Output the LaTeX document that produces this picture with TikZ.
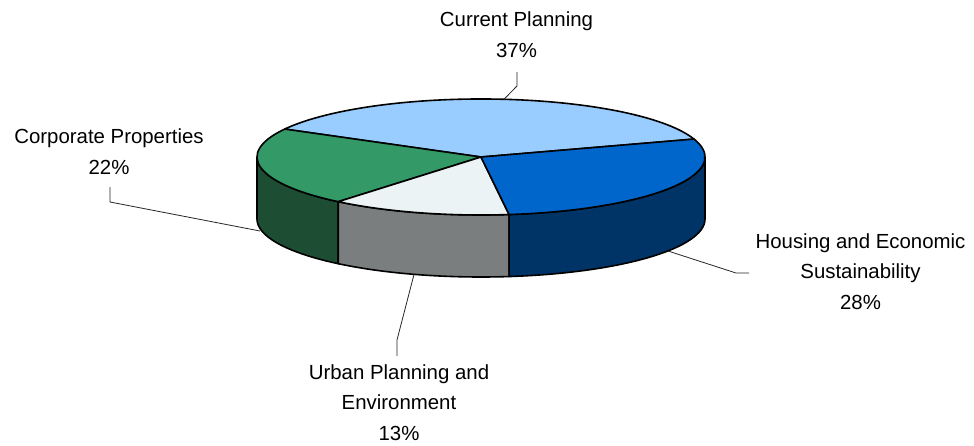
\documentclass[tikz,border=0pt]{standalone}
\usepackage{fontspec}
\setmainfont{Liberation Sans}
\definecolor{cplight}{HTML}{99CCFF}
\definecolor{hsblue}{HTML}{0066CC}
\definecolor{hsdark}{HTML}{003366}
\definecolor{upwhite}{HTML}{ECF3F4}
\definecolor{upgray}{HTML}{7A7E7E}
\definecolor{cpgreen}{HTML}{339966}
\definecolor{cpdark}{HTML}{1D4D33}
\begin{document}
\begin{tikzpicture}[x=1pt,y=1pt,
  slice/.style={draw=black,line width=1.6pt,line join=round},
  ell/.style={x radius=224pt,y radius=58pt},
  lbl/.style={align=center,inner sep=0pt,anchor=base,font=\fontsize{20.4}{30.5}\selectfont},
  leader/.style={draw=black!85,line width=0.8pt}]
\useasboundingbox (-481,-288) rectangle (493,157);
% sides
\filldraw[slice,fill=cpdark] (180:224pt and 58pt) arc[start angle=180,end angle=230.4,ell] -- ++(0,-62) arc[start angle=230.4,end angle=180,ell] -- cycle;
\filldraw[slice,fill=upgray] (230.4:224pt and 58pt) arc[start angle=230.4,end angle=277.2,ell] -- ++(0,-62) arc[start angle=277.2,end angle=230.4,ell] -- cycle;
\filldraw[slice,fill=hsdark] (277.2:224pt and 58pt) arc[start angle=277.2,end angle=360,ell] -- ++(0,-62) arc[start angle=360,end angle=277.2,ell] -- cycle;
% top
\filldraw[slice,fill=cplight] (0,0) -- (18:224pt and 58pt) arc[start angle=18,end angle=151.2,ell] -- cycle;
\filldraw[slice,fill=cpgreen] (0,0) -- (151.2:224pt and 58pt) arc[start angle=151.2,end angle=230.4,ell] -- cycle;
\filldraw[slice,fill=upwhite] (0,0) -- (230.4:224pt and 58pt) arc[start angle=230.4,end angle=277.2,ell] -- cycle;
\filldraw[slice,fill=hsblue] (0,0) -- (277.2:224pt and 58pt) arc[start angle=277.2,end angle=378,ell] -- cycle;
% labels (anchor base = baseline of last line)
\node[lbl] (cp) at (35.5,100) {Current Planning\\37\%};
\node[lbl] (corp) at (-372,-17) {Corporate Properties\\22\%};
\node[lbl] (hs) at (379.5,-152) {Housing and Economic\\Sustainability\\28\%};
\node[lbl] (up) at (-82,-283) {Urban Planning and\\Environment\\13\%};
% leaders
\coordinate (cpa) at (36,85); \coordinate (cpb) at (36,71); \coordinate (cpc) at (23,57.7);
\coordinate (coa) at (-371,-30); \coordinate (cob) at (-371,-45); \coordinate (coc) at (-221,-74);
\coordinate (hsa) at (268,-116); \coordinate (hsb) at (255,-116); \coordinate (hsc) at (187,-94);
\coordinate (upa) at (-84,-199); \coordinate (upb) at (-84,-183); \coordinate (upc) at (-67,-117.5);
\draw[leader] (cpa) -- (cpb) -- (cpc);
\draw[leader] (coa) -- (cob) -- (coc);
\draw[leader] (hsa) -- (hsb) -- (hsc);
\draw[leader] (upa) -- (upb) -- (upc);
\end{tikzpicture}
\end{document}
